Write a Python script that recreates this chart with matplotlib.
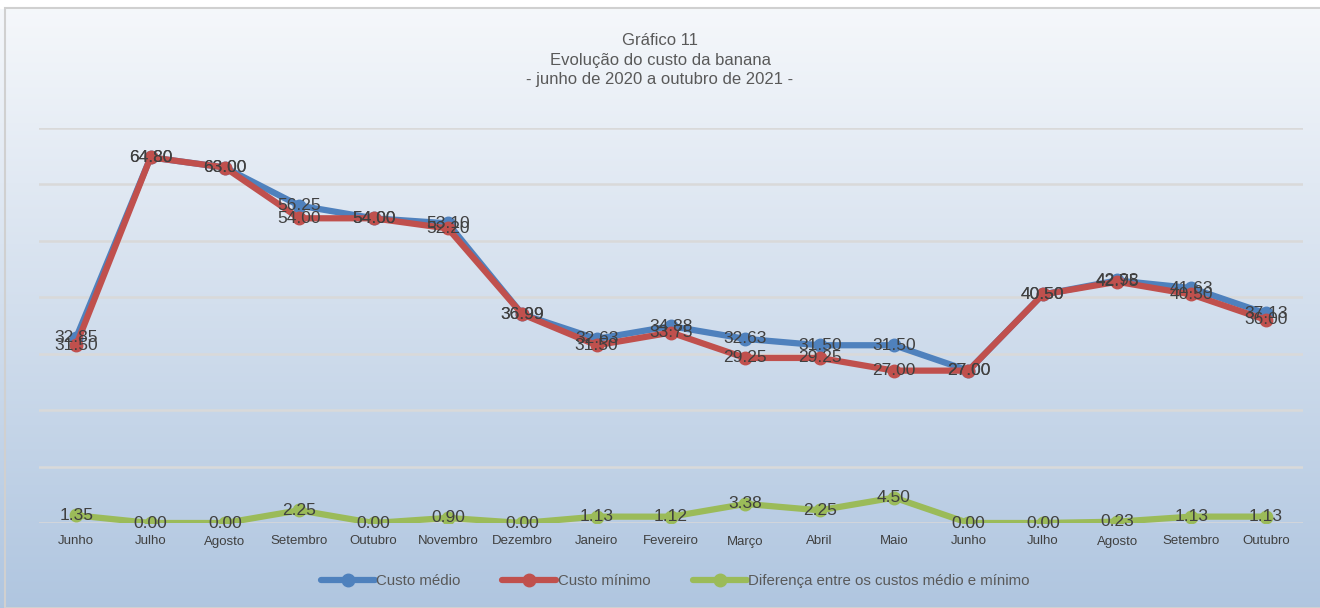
import matplotlib
matplotlib.use("Agg")
import matplotlib.pyplot as plt
import numpy as np
from matplotlib.patches import Rectangle

plt.rcParams['font.family'] = ['Liberation Sans', 'DejaVu Sans']

months = ['Junho', 'Julho', 'Agosto', 'Setembro', 'Outubro', 'Novembro', 'Dezembro',
          'Janeiro', 'Fevereiro', 'Março', 'Abril', 'Maio', 'Junho', 'Julho',
          'Agosto', 'Setembro', 'Outubro']
custo_medio = [32.85, 64.80, 63.00, 56.25, 54.00, 53.10, 36.99, 32.63, 34.88,
               32.63, 31.50, 31.50, 27.00, 40.50, 42.98, 41.63, 37.13]
custo_minimo = [31.50, 64.80, 63.00, 54.00, 54.00, 52.20, 36.99, 31.50, 33.75,
                29.25, 29.25, 27.00, 27.00, 40.50, 42.75, 40.50, 36.00]
diferenca = [1.35, 0.00, 0.00, 2.25, 0.00, 0.90, 0.00, 1.13, 1.12,
             3.38, 2.25, 4.50, 0.00, 0.00, 0.23, 1.13, 1.13]

fig = plt.figure(figsize=(13.2, 6.08), dpi=100)

# gradient background
bg = fig.add_axes([0, 0, 1, 1], zorder=-10)
grad = np.linspace(0, 1, 256).reshape(-1, 1)
top = np.array([0.965, 0.973, 0.985])
bot = np.array([0.69, 0.776, 0.878])
img = top + (bot - top) * grad[..., None]
bg.imshow(img, aspect='auto', extent=[0, 1, 0, 1], origin='upper')
bg.add_patch(Rectangle((0, 1 - 8 / 608), 1, 8 / 608, color='white', zorder=2))
bg.add_patch(Rectangle((5 / 1320, 0), 1, 1 - 8 / 608, fill=False, ec='#d0d0d0', lw=1.5, zorder=3))
bg.set_xlim(0, 1)
bg.set_ylim(0, 1)
bg.axis('off')

ax = fig.add_axes([39 / 1320, 1 - 523 / 608, 1264 / 1320, 395 / 608])
ax.patch.set_alpha(0)
x = np.arange(len(months))
ax.set_xlim(-0.5, len(months) - 0.5)
ax.set_ylim(0, 70)
ax.set_yticks(np.arange(0, 71, 10))
ax.yaxis.grid(True, color='#d9d9d9', lw=1.8)
ax.set_axisbelow(True)
ax.tick_params(axis='y', left=False, labelleft=False)
ax.tick_params(axis='x', length=0, pad=9, labelsize=9.5, labelcolor='#404040')
ax.set_xticks(x)
ax.set_xticklabels(months, va='top')
for s in ax.spines.values():
    s.set_visible(False)

series = [
    (custo_medio, '#4F81BD', 'Custo médio'),
    (custo_minimo, '#C0504D', 'Custo mínimo'),
    (diferenca, '#9BBB59', 'Diferença entre os custos médio e mínimo'),
]
for vals, col, lab in series:
    ax.plot(x, vals, color=col, lw=4.5, marker='o', ms=9, label=lab,
            solid_capstyle='round', solid_joinstyle='round', zorder=3)
for vals, col, lab in series:
    for xi, v in zip(x, vals):
        ax.text(xi, v, f'{v:.2f}', ha='center', va='center', fontsize=12.5,
                color='#404040', zorder=5)

fig.text(0.5, 1 - 60 / 608, 'Gráfico 11\nEvolução do custo da banana\n- junho de 2020 a outubro de 2021 -',
         ha='center', va='center', fontsize=12, color='#595959', linespacing=1.4)

fig.legend(loc='center', bbox_to_anchor=(675 / 1320, 1 - 581 / 608), ncol=3, frameon=False,
           fontsize=10.8, labelcolor='#595959', handlelength=3.6, handletextpad=0.1,
           columnspacing=2.8)

fig.savefig('out.png', dpi=100)
